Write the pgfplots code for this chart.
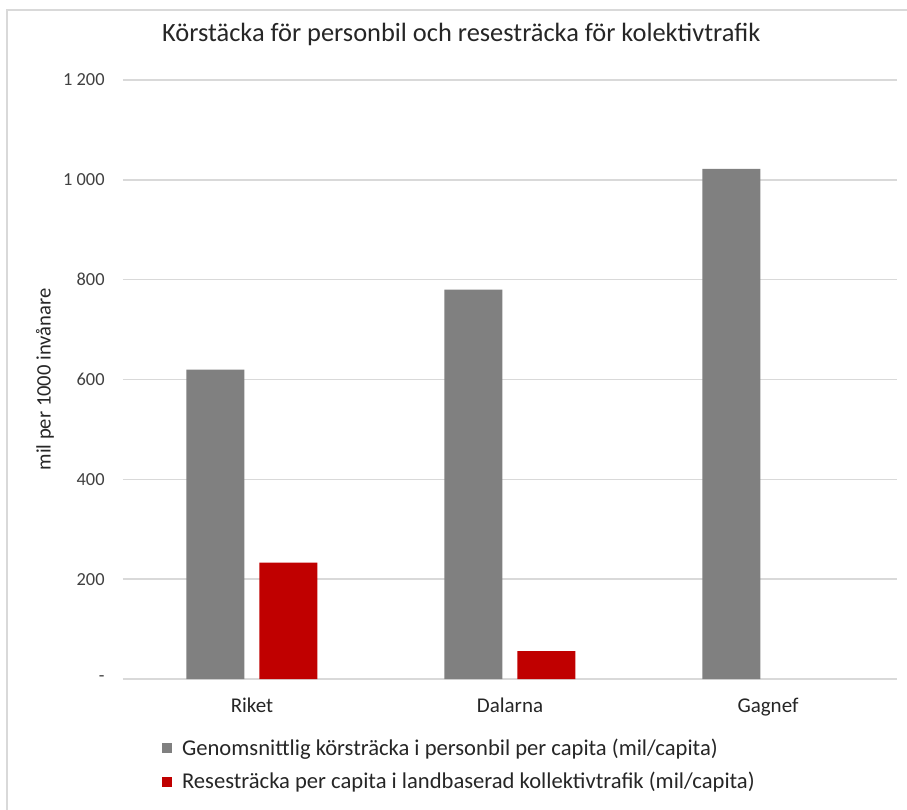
\documentclass[border=0pt]{standalone}
\usepackage{fontspec}
\setmainfont{Carlito}
\usepackage{pgfplots}
\pgfplotsset{compat=1.18}
\definecolor{barGray}{HTML}{808080}
\definecolor{barRed}{HTML}{C00000}
\definecolor{gridGray}{HTML}{D9D9D9}
\definecolor{txt}{HTML}{262626}
\definecolor{tickc}{HTML}{404040}
\begin{document}
\begin{tikzpicture}
\useasboundingbox (-61.5pt,-65.5pt) rectangle (392pt,339.5pt);
\draw[color=gridGray, line width=0.75pt] (-58pt,-80pt) -- (-58pt,334.5pt) -- (410pt,334.5pt);
\begin{axis}[
  at={(0,0)}, anchor=south west,
  scale only axis, width=387pt, height=299.5pt,
  xmin=-0.5, xmax=2.5, ymin=0, ymax=1200,
  ytick={0,200,400,600,800,1000,1200},
  yticklabels={-,200,400,600,800,{1 000},{1 200}},
  xtick={0,1,2}, xticklabels={Riket,Dalarna,Gagnef},
  ymajorgrids, grid style={gridGray, line width=0.75pt},
  axis line style={draw=none}, major tick length=0pt,
  /pgf/number format/assume math mode=true,
  yticklabel style={font=\fontsize{9.2}{11}\selectfont, text=tickc, anchor=east, inner sep=0pt, xshift=-9pt},
  xticklabel style={font=\fontsize{10.5}{12}\selectfont, text=txt, anchor=base, inner sep=0pt, yshift=-16.5pt},
  ylabel={mil per 1000 invånare},
  ylabel style={font=\fontsize{10.3}{12}\selectfont, text=txt, at={(axis description cs:-0.1008,0.5)}, anchor=center},
  title={Körstäcka för personbil och resesträcka för kolektivtrafik},
  title style={font=\fontsize{13.2}{15}\selectfont, text=txt, at={(axis description cs:0.437,1.045)}, anchor=base},
  legend style={at={(axis description cs:0.05,-0.092)}, anchor=north west, draw=none, fill=none,
    font=\fontsize{11.3}{13}\selectfont, text=txt, inner sep=0pt, row sep=3.2pt,
    nodes={inner sep=2pt}, /tikz/every odd column/.append style={column sep=3pt}},
  legend cell align=left,
]
\addplot[ybar, bar width=29pt, bar shift=-18.25pt, fill=barGray, draw=none,
  legend image code/.code={\fill[barGray] (0pt,-2.5pt) rectangle (5pt,2.5pt);}]
  coordinates {(0,620) (1,780) (2,1022)};
\addlegendentry{Genomsnittlig körsträcka i personbil per capita (mil/capita)}
\addplot[ybar, bar width=29pt, bar shift=18.25pt, fill=barRed, draw=none,
  legend image code/.code={\fill[barRed] (0pt,-2.5pt) rectangle (5pt,2.5pt);}]
  coordinates {(0,233) (1,56)};
\addlegendentry{Resesträcka per capita i landbaserad kollektivtrafik (mil/capita)}
\end{axis}
\end{tikzpicture}
\end{document}
